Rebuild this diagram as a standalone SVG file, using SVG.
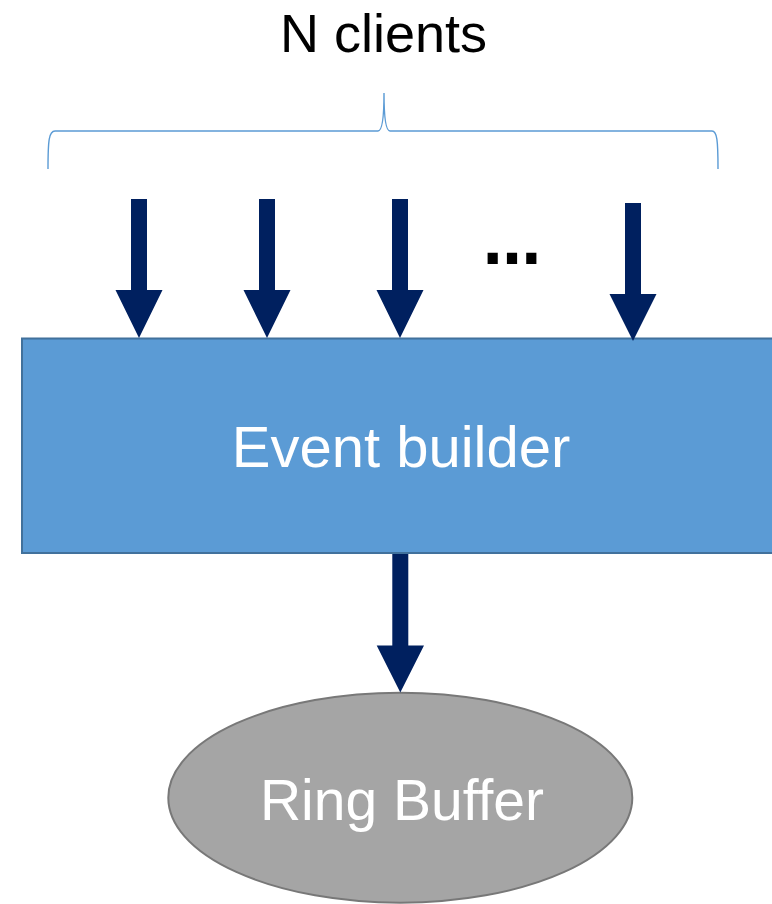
<svg xmlns="http://www.w3.org/2000/svg" width="772" height="904" viewBox="0 0 772 904">
  <style>
    .arrow { fill: #00205F; }
    .label { font-family: "Liberation Sans", Arial, sans-serif; text-anchor: middle; }
  </style>
  <rect width="772" height="904" fill="#FFFFFF"/>
  <g id="title">
    <text class="label" x="383.5" y="51.7" font-size="54" fill="#000000">N clients</text>
  </g>
  <g id="brace">
    <path d="M48,169 C48,140 49,131 55,131 L378,131 C382,131 384,120 384,93 C384,120 386,131 390,131 L712,131 C717,131 718,140 718,169" fill="none" stroke="#5B9BD5" stroke-width="1.4"/>
  </g>
  <g id="ellipsis">
    <text x="512" y="264" font-family="'DejaVu Sans', sans-serif" text-anchor="middle" font-size="58" font-weight="bold" fill="#000000">…</text>
  </g>
  <g id="event-builder">
    <rect x="22" y="338.5" width="760" height="214.5" fill="#5B9BD5" stroke="#41719C" stroke-width="2"/>
    <text class="label" x="401" y="467.3" font-size="58" fill="#FFFFFF">Event builder</text>
  </g>
  <g id="ring-buffer">
    <ellipse cx="400.3" cy="797.7" rx="232" ry="105" fill="#A5A5A5" stroke="#787878" stroke-width="2"/>
    <text class="label" x="402" y="820" font-size="57" fill="#FFFFFF">Ring Buffer</text>
  </g>
  <g id="connectors">
    <polygon class="arrow" points="131,199 147,199 147,290 162.5,290 139,338 115.5,290 131,290"/>
    <polygon class="arrow" points="259,199 275,199 275,290 290.5,290 267,338 243.5,290 259,290"/>
    <polygon class="arrow" points="392,199 408,199 408,290 423.5,290 400,338 376.5,290 392,290"/>
    <polygon class="arrow" points="625,203 641,203 641,294 656.5,294 633,341 609.5,294 625,294"/>
    <polygon class="arrow" points="392.3,554 408.3,554 408.3,645.5 424,645.5 400.3,692.5 376.7,645.5 392.3,645.5"/>
  </g>
</svg>
